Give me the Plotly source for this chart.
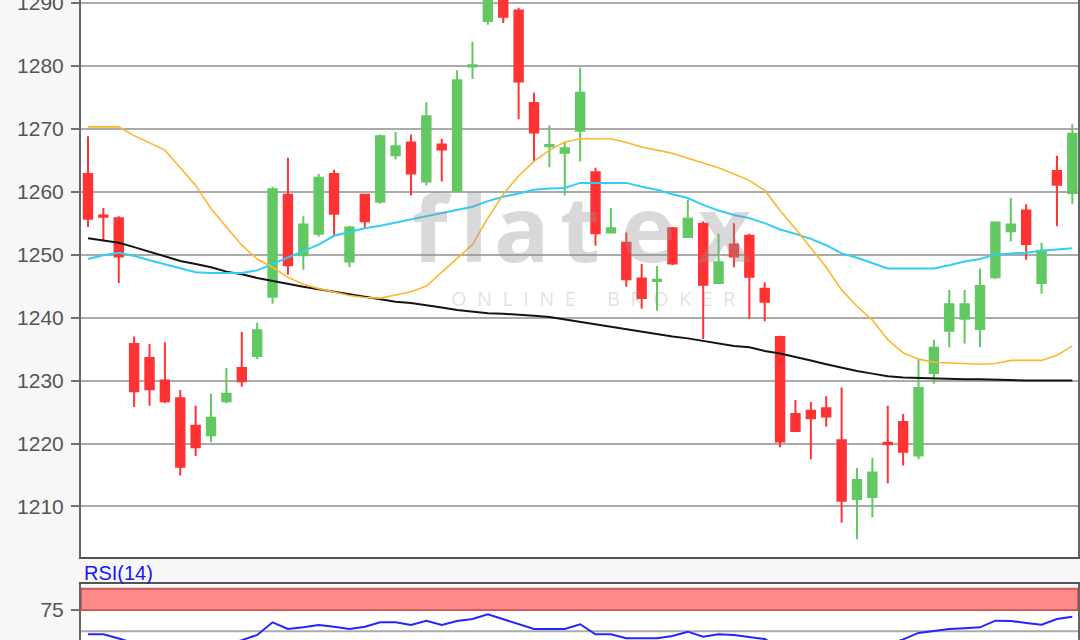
import plotly.graph_objects as go

# ---------------- data ----------------
idx = list(range(65))

opens = [1262.8, 1256.2, 1255.8, 1235.8, 1233.6, 1230.0, 1227.2, 1222.8, 1221.3, 1226.7,
         1232.0, 1233.9, 1243.3, 1259.5, 1249.9, 1253.3, 1262.8, 1248.9, 1259.5, 1258.4,
         1265.8, 1267.8, 1261.6, 1267.5, 1260.1, 1279.9, 1287.1, 1292.5, 1288.8, 1274.1,
         1267.2, 1266.2, 1269.7, 1263.1, 1253.5, 1251.9, 1246.2, 1245.8, 1254.2, 1252.8,
         1254.9, 1245.5, 1251.6, 1253.0, 1244.6, 1236.9, 1224.7, 1225.2, 1225.6, 1220.5,
         1211.2, 1211.5, 1220.1, 1223.4, 1218.1, 1231.2, 1237.9, 1239.8, 1238.2, 1246.4,
         1253.7, 1257.0, 1245.5, 1263.3, 1259.8]
highs = [1268.8, 1257.4, 1256.1, 1237.0, 1235.8, 1236.1, 1228.5, 1226.0, 1227.9, 1232.0,
         1237.7, 1239.2, 1260.8, 1265.4, 1256.1, 1262.8, 1263.5, 1254.6, 1259.6, 1269.1,
         1269.5, 1269.1, 1274.2, 1268.4, 1279.3, 1283.8, 1296.0, 1294.5, 1289.2, 1275.7,
         1270.5, 1267.8, 1279.7, 1263.8, 1257.4, 1253.5, 1248.5, 1248.2, 1254.4, 1258.7,
         1255.3, 1253.3, 1255.0, 1253.3, 1245.6, 1237.1, 1226.9, 1226.6, 1227.5, 1228.9,
         1216.1, 1217.7, 1226.0, 1224.7, 1233.4, 1236.5, 1244.4, 1244.4, 1247.8, 1255.2,
         1259.0, 1258.0, 1251.9, 1265.7, 1270.7]
lows = [1254.4, 1252.3, 1245.5, 1225.8, 1226.0, 1226.4, 1214.9, 1218.0, 1220.2, 1226.4,
        1229.0, 1233.4, 1242.2, 1246.8, 1247.6, 1252.9, 1253.0, 1248.0, 1254.3, 1258.1,
        1265.1, 1259.4, 1261.0, 1261.6, 1260.0, 1277.9, 1286.5, 1286.8, 1271.5, 1264.8,
        1263.9, 1259.4, 1264.8, 1251.4, 1253.4, 1244.9, 1241.4, 1241.1, 1248.3, 1252.7,
        1236.6, 1245.4, 1248.0, 1239.8, 1239.4, 1219.4, 1221.9, 1217.5, 1222.7, 1207.4,
        1204.8, 1208.3, 1213.7, 1216.5, 1217.5, 1229.5, 1235.3, 1235.9, 1235.3, 1246.1,
        1252.1, 1249.2, 1243.8, 1254.5, 1258.1]
closes = [1255.7, 1256.0, 1249.7, 1228.3, 1228.6, 1226.7, 1216.3, 1219.4, 1224.1, 1227.9,
          1229.9, 1238.0, 1260.4, 1248.3, 1254.8, 1262.2, 1256.5, 1254.3, 1255.3, 1268.8,
          1267.2, 1262.9, 1272.0, 1266.7, 1277.7, 1280.1, 1293.5, 1287.8, 1277.5, 1269.4,
          1267.4, 1266.9, 1275.7, 1253.4, 1254.2, 1246.1, 1243.1, 1246.0, 1248.6, 1255.7,
          1245.2, 1248.8, 1249.7, 1246.5, 1242.5, 1220.3, 1222.0, 1224.0, 1224.3, 1210.9,
          1214.2, 1215.4, 1219.9, 1218.7, 1228.8, 1235.2, 1242.1, 1242.1, 1245.0, 1255.1,
          1254.8, 1251.7, 1250.6, 1261.1, 1269.2]

ma_orange = [1270.3, 1270.3, 1270.3, 1268.9, 1267.8, 1266.6, 1263.8, 1261.0, 1257.3, 1254.4,
             1251.5, 1249.3, 1248.0, 1246.4, 1245.3, 1244.6, 1244.0, 1243.5, 1243.2, 1243.1,
             1243.6, 1244.1, 1245.0, 1247.2, 1249.3, 1251.6, 1255.8, 1259.6, 1262.5, 1264.8,
             1266.6, 1267.9, 1268.4, 1268.4, 1268.4, 1267.8, 1267.1, 1266.6, 1266.1, 1265.3,
             1264.6, 1263.8, 1262.8, 1261.8, 1260.2, 1257.0, 1254.1, 1251.1, 1248.0, 1244.4,
             1241.8, 1239.6, 1236.5, 1234.4, 1233.4, 1232.9, 1232.8, 1232.7, 1232.6, 1232.7,
             1233.2, 1233.2, 1233.2, 1234.0, 1235.5]
ma_cyan = [1249.3, 1249.9, 1250.3, 1249.8, 1249.1, 1248.5, 1247.9, 1247.2, 1247.1, 1247.1,
           1247.1, 1247.5, 1248.5, 1249.5, 1250.6, 1251.6, 1253.0, 1253.6, 1254.2, 1254.6,
           1255.1, 1255.7, 1256.2, 1256.6, 1257.1, 1257.6, 1258.5, 1259.2, 1259.7, 1260.3,
           1260.5, 1260.6, 1261.4, 1261.4, 1261.4, 1261.4, 1260.8, 1260.3, 1259.6, 1259.0,
           1257.9, 1257.0, 1256.3, 1255.8, 1255.0, 1254.0, 1253.3, 1252.5, 1251.5, 1250.2,
           1249.5, 1248.7, 1247.8, 1247.8, 1247.8, 1247.8, 1248.3, 1248.9, 1249.3, 1250.0,
           1250.2, 1250.3, 1250.6, 1250.8, 1251.0]
ma_black = [1252.6, 1252.3, 1251.9, 1251.2, 1250.5, 1249.7, 1249.0, 1248.5, 1248.0, 1247.3,
            1246.9, 1246.3, 1245.8, 1245.4, 1244.9, 1244.5, 1244.1, 1243.7, 1243.2, 1242.8,
            1242.5, 1242.3, 1242.0, 1241.6, 1241.2, 1240.9, 1240.7, 1240.6, 1240.5, 1240.3,
            1240.1, 1239.7, 1239.3, 1238.9, 1238.5, 1238.2, 1237.7, 1237.3, 1237.0, 1236.7,
            1236.3, 1235.9, 1235.5, 1235.3, 1234.7, 1234.3, 1233.8, 1233.2, 1232.6, 1232.0,
            1231.5, 1231.1, 1230.7, 1230.5, 1230.4, 1230.3, 1230.3, 1230.2, 1230.2, 1230.1,
            1230.1, 1230.0, 1230.0, 1230.0, 1230.0]

rsi = [46.4, 46.4, 41.5, 36.0, 33.5, 32.0, 27.5, 26.0, 30.5, 34.0,
       39.5, 45.6, 60.5, 52.6, 54.6, 57.4, 55.4, 52.6, 55.4, 60.5,
       60.5, 57.4, 62.4, 57.4, 62.1, 64.4, 69.9, 64.4, 58.5, 52.6,
       52.6, 52.6, 58.2, 46.4, 46.4, 41.7, 41.7, 41.7, 44.4, 49.5,
       43.6, 46.4, 45.6, 43.5, 40.9, 30.0, 28.5, 29.5, 29.5, 24.0,
       27.0, 28.5, 34.0, 40.5, 48.0, 50.5, 52.6, 53.5, 54.6, 62.4,
       62.1, 59.8, 57.7, 64.4, 67.1]

price_ticks = [1210, 1220, 1230, 1240, 1250, 1260, 1270, 1280, 1290]
rsi_ticks = [75]
rsi_zone = [75, 100]
rsi_mid = 50

# ---------------- figure ----------------
W, H = 1080, 640
FONT = "Liberation Sans, Arial, sans-serif"
RED = "#ff3333"
GREEN = "#62c862"

fig = go.Figure()

fig.add_trace(go.Candlestick(
    x=idx, open=opens, high=highs, low=lows, close=closes,
    increasing=dict(line=dict(color=GREEN, width=2), fillcolor=GREEN),
    decreasing=dict(line=dict(color=RED, width=2), fillcolor=RED),
    whiskerwidth=0, showlegend=False, xaxis="x", yaxis="y", hoverinfo="skip"))

fig.add_trace(go.Scatter(x=idx, y=ma_black, mode="lines",
                         line=dict(color="#141414", width=2), showlegend=False,
                         xaxis="x", yaxis="y", hoverinfo="skip"))
fig.add_trace(go.Scatter(x=idx, y=ma_cyan, mode="lines",
                         line=dict(color="#33ccf5", width=2), showlegend=False,
                         xaxis="x", yaxis="y", hoverinfo="skip"))
fig.add_trace(go.Scatter(x=idx, y=ma_orange, mode="lines",
                         line=dict(color="#ffb52e", width=1.6), showlegend=False,
                         xaxis="x", yaxis="y", hoverinfo="skip"))

fig.add_trace(go.Scatter(x=idx, y=rsi, mode="lines",
                         line=dict(color="#2424ff", width=2), showlegend=False,
                         xaxis="x2", yaxis="y2", hoverinfo="skip"))

L, R = 81, 2
main_bottom_px = 557
rsi_top_px = 584.3

xr = [-0.455, 64.37]

fig.update_layout(
    width=W, height=H,
    margin=dict(l=L, r=R, t=0, b=0, pad=0, autoexpand=False),
    paper_bgcolor="#f7f7f7",
    plot_bgcolor="#ffffff",
    showlegend=False,
    boxgap=0.22,
    font=dict(family=FONT, size=21, color="#555555"),
    xaxis=dict(domain=[0, 1], range=xr, anchor="y", showticklabels=False,
               showgrid=False, zeroline=False, ticks="", automargin=False,
               showline=True, linecolor="#555555", linewidth=2,
               rangeslider=dict(visible=False)),
    yaxis=dict(domain=[1 - main_bottom_px / H, 1], range=[1201.97, 1290.45],
               tickvals=price_ticks, ticks="outside", ticklen=8,
               tickcolor="#707070", tickwidth=2, automargin=False,
               showgrid=True, gridcolor="#ababab", gridwidth=2, zeroline=False,
               showline=True, mirror=True, linecolor="#666666", linewidth=2,
               tickfont=dict(family=FONT, size=21, color="#555555"),
               ticklabelstandoff=3, ticklabeloverflow="allow"),
    xaxis2=dict(domain=[0, 1], range=xr, anchor="y2", showticklabels=False,
                showgrid=False, zeroline=False, ticks="", side="top",
                automargin=False,
                showline=True, mirror=True, linecolor="#555555", linewidth=2),
    yaxis2=dict(domain=[0, (H - rsi_top_px) / H], range=[39.7, 105.2],
                tickvals=rsi_ticks, ticks="outside", ticklen=8, automargin=False,
                tickcolor="#707070", tickwidth=2, showgrid=False, zeroline=False,
                showline=True, mirror=True, linecolor="#666666", linewidth=2,
                tickfont=dict(family=FONT, size=21, color="#555555"),
                ticklabelstandoff=3, ticklabeloverflow="allow"),
)

# RSI zone and middle line
fig.add_shape(type="rect", xref="x2", yref="y2", x0=xr[0], x1=xr[1],
              y0=rsi_zone[0], y1=rsi_zone[1], fillcolor="#ff8a8a",
              line=dict(color="#d05a5a", width=2), layer="below")
fig.add_shape(type="line", xref="x2", yref="y2", x0=xr[0], x1=xr[1],
              y0=rsi_mid, y1=rsi_mid, line=dict(color="#ababab", width=2),
              layer="below")

# RSI label
fig.add_annotation(text="RSI(14)", xref="paper", yref="paper",
                   x=0, y=(H - 573) / H, xanchor="left", yanchor="middle",
                   xshift=1, showarrow=False,
                   font=dict(family=FONT, size=20, color="#1515ff"))

# watermark
def px_x(px):
    return (px - L) / (W - L - R)

def px_y(py):
    return (H - py) / H

wm_big = ["f", "l", "a", "t", "e", "x"]
wm_big_pos = [432, 474, 522, 580, 648, 724]
for ch, xp in zip(wm_big, wm_big_pos):
    fig.add_annotation(text=ch, xref="paper", yref="paper",
                       x=px_x(xp), y=px_y(226), xanchor="center", yanchor="middle",
                       showarrow=False,
                       font=dict(family="Open Sans, Arial, sans-serif", size=92,
                                 color="rgba(150,150,150,0.36)", weight=700))
fig.add_annotation(text="O  N  L  I  N  E      B  R  O  K  E  R",
                   xref="paper", yref="paper",
                   x=px_x(593), y=px_y(298), xanchor="center", yanchor="middle",
                   showarrow=False,
                   font=dict(family="Open Sans, Arial, sans-serif", size=20,
                             color="rgba(150,150,150,0.28)"))

fig.write_html("out.html", config={"displayModeBar": False, "staticPlot": True},
               post_script="document.body.style.margin='0';document.body.style.overflow='hidden';")
